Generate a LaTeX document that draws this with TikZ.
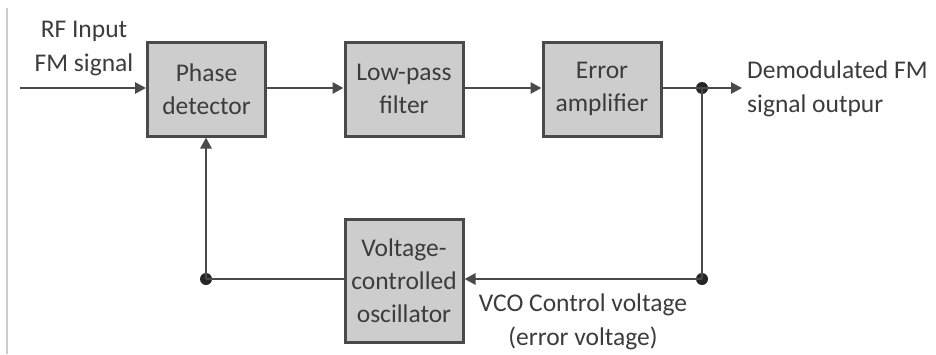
\documentclass[tikz,border=0pt]{standalone}
\usepackage{fontspec}
\setmainfont{Carlito}
\usetikzlibrary{arrows.meta}
\definecolor{boxfill}{HTML}{CDCDCD}
\definecolor{edge}{HTML}{4A4A4A}
\definecolor{txt}{HTML}{3C3C3C}
\tikzset{
  blk/.style={draw=edge, line width=3pt, fill=boxfill, minimum width=118pt, minimum height=94pt, inner sep=0pt, align=center, text=txt, font=\fontsize{25.5}{33}\selectfont},
  lbl/.style={inner sep=0pt, text=txt, font=\fontsize{25.5}{34}\selectfont},
  conn/.style={draw=edge, line width=2.8pt},
  arr/.style={conn, -{Triangle[length=11pt,width=11pt]}},
  dotc/.style={circle, fill=black!85, inner sep=0pt, minimum size=12pt}
}
\begin{document}
\begin{tikzpicture}[x=1pt,y=-1pt]
\useasboundingbox (0,0) rectangle (936,354);
\fill[white] (0,0) rectangle (936,354);
\draw[black!20, line width=2pt] (7,8) -- (7,354);
\node[blk] (pd) at (206.5,89) {Phase\\detector};
\node[blk] (lpf) at (404,89) {Low-pass\\filter};
\node[blk] (ea) at (602,89) {Error\\amplifier};
\node[blk, minimum height=123pt] (vco) at (404,280.5) {Voltage-\\controlled\\oscillator};
\coordinate (in) at (20,88);
\coordinate (out) at (742,88);
\node[dotc] (j1) at (702,88) {};
\node[dotc] (j2) at (702,279) {};
\node[dotc] (j3) at (206,279) {};
\node[lbl, align=center] (rf) at (84,49) {RF Input\\FM signal};
\node[lbl, align=left, anchor=west] (dm) at (747,89) {Demodulated FM\\signal outpur};
\node[lbl, align=center] (vc) at (583,322) {VCO Control voltage\\(error voltage)};
\draw[arr] (in) -- (pd.west |- in);
\draw[arr] (pd.east |- in) -- (lpf.west |- in);
\draw[arr] (lpf.east |- in) -- (ea.west |- in);
\draw[conn] (ea.east |- in) -- (j1.center);
\draw[arr] (j1.center) -- (out);
\draw[conn] (j1.center) -- (j2.center);
\draw[arr] (j2.center) -- (vco.east |- j2);
\draw[conn] (vco.west |- j2) -- (j3.center);
\draw[arr] (j3.center) -- (j3 |- pd.south);
\end{tikzpicture}
\end{document}
